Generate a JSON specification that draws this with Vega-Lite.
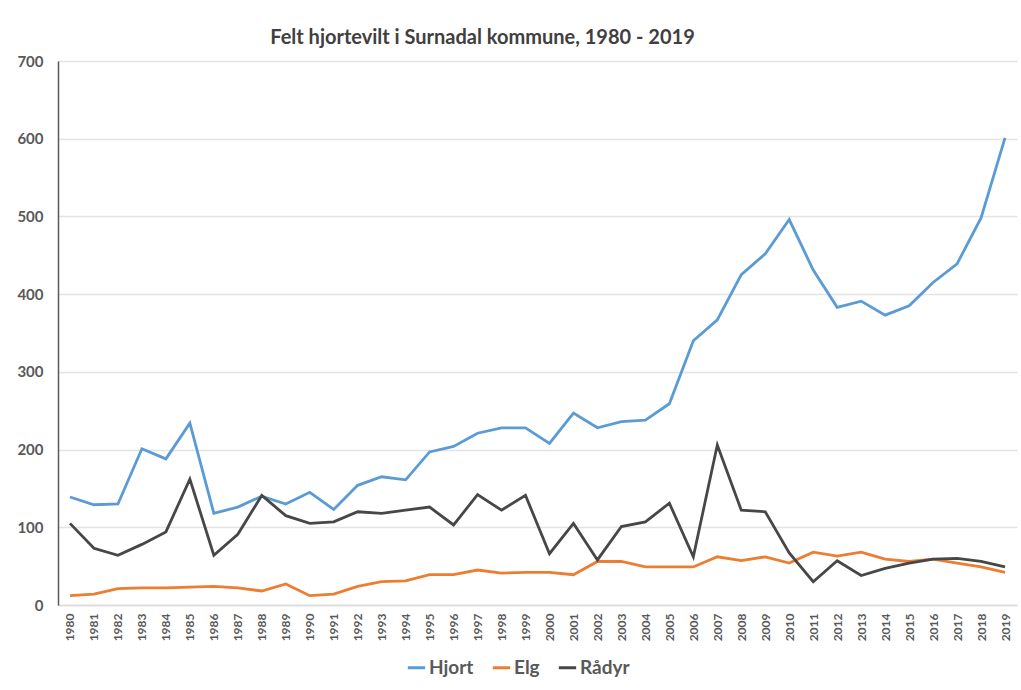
{
  "$schema": "https://vega.github.io/schema/vega-lite/v6.json",
  "width": 959,
  "height": 544,
  "autosize": {"type": "none"},
  "padding": {"left": 58, "top": 61, "right": 4, "bottom": 85},
  "background": "white",
  "title": {
    "text": "Felt hjortevilt i Surnadal kommune, 1980 - 2019",
    "anchor": "middle",
    "dx": -55,
    "offset": 6,
    "font": "Lato",
    "fontSize": 20,
    "fontWeight": "bold",
    "color": "#404040"
  },
  "data": {
    "values": [
      {"year": "1980", "art": "Hjort", "antall": 139}, {"year": "1980", "art": "Elg", "antall": 12}, {"year": "1980", "art": "Rådyr", "antall": 105},
      {"year": "1981", "art": "Hjort", "antall": 129}, {"year": "1981", "art": "Elg", "antall": 14}, {"year": "1981", "art": "Rådyr", "antall": 73},
      {"year": "1982", "art": "Hjort", "antall": 130}, {"year": "1982", "art": "Elg", "antall": 21}, {"year": "1982", "art": "Rådyr", "antall": 64},
      {"year": "1983", "art": "Hjort", "antall": 201}, {"year": "1983", "art": "Elg", "antall": 22}, {"year": "1983", "art": "Rådyr", "antall": 78},
      {"year": "1984", "art": "Hjort", "antall": 188}, {"year": "1984", "art": "Elg", "antall": 22}, {"year": "1984", "art": "Rådyr", "antall": 94},
      {"year": "1985", "art": "Hjort", "antall": 234}, {"year": "1985", "art": "Elg", "antall": 23}, {"year": "1985", "art": "Rådyr", "antall": 162},
      {"year": "1986", "art": "Hjort", "antall": 118}, {"year": "1986", "art": "Elg", "antall": 24}, {"year": "1986", "art": "Rådyr", "antall": 64},
      {"year": "1987", "art": "Hjort", "antall": 126}, {"year": "1987", "art": "Elg", "antall": 22}, {"year": "1987", "art": "Rådyr", "antall": 91},
      {"year": "1988", "art": "Hjort", "antall": 140}, {"year": "1988", "art": "Elg", "antall": 18}, {"year": "1988", "art": "Rådyr", "antall": 141},
      {"year": "1989", "art": "Hjort", "antall": 130}, {"year": "1989", "art": "Elg", "antall": 27}, {"year": "1989", "art": "Rådyr", "antall": 115},
      {"year": "1990", "art": "Hjort", "antall": 145}, {"year": "1990", "art": "Elg", "antall": 12}, {"year": "1990", "art": "Rådyr", "antall": 105},
      {"year": "1991", "art": "Hjort", "antall": 123}, {"year": "1991", "art": "Elg", "antall": 14}, {"year": "1991", "art": "Rådyr", "antall": 107},
      {"year": "1992", "art": "Hjort", "antall": 154}, {"year": "1992", "art": "Elg", "antall": 24}, {"year": "1992", "art": "Rådyr", "antall": 120},
      {"year": "1993", "art": "Hjort", "antall": 165}, {"year": "1993", "art": "Elg", "antall": 30}, {"year": "1993", "art": "Rådyr", "antall": 118},
      {"year": "1994", "art": "Hjort", "antall": 161}, {"year": "1994", "art": "Elg", "antall": 31}, {"year": "1994", "art": "Rådyr", "antall": 122},
      {"year": "1995", "art": "Hjort", "antall": 197}, {"year": "1995", "art": "Elg", "antall": 39}, {"year": "1995", "art": "Rådyr", "antall": 126},
      {"year": "1996", "art": "Hjort", "antall": 204}, {"year": "1996", "art": "Elg", "antall": 39}, {"year": "1996", "art": "Rådyr", "antall": 103},
      {"year": "1997", "art": "Hjort", "antall": 221}, {"year": "1997", "art": "Elg", "antall": 45}, {"year": "1997", "art": "Rådyr", "antall": 142},
      {"year": "1998", "art": "Hjort", "antall": 228}, {"year": "1998", "art": "Elg", "antall": 41}, {"year": "1998", "art": "Rådyr", "antall": 122},
      {"year": "1999", "art": "Hjort", "antall": 228}, {"year": "1999", "art": "Elg", "antall": 42}, {"year": "1999", "art": "Rådyr", "antall": 141},
      {"year": "2000", "art": "Hjort", "antall": 208}, {"year": "2000", "art": "Elg", "antall": 42}, {"year": "2000", "art": "Rådyr", "antall": 66},
      {"year": "2001", "art": "Hjort", "antall": 247}, {"year": "2001", "art": "Elg", "antall": 39}, {"year": "2001", "art": "Rådyr", "antall": 105},
      {"year": "2002", "art": "Hjort", "antall": 228}, {"year": "2002", "art": "Elg", "antall": 56}, {"year": "2002", "art": "Rådyr", "antall": 58},
      {"year": "2003", "art": "Hjort", "antall": 236}, {"year": "2003", "art": "Elg", "antall": 56}, {"year": "2003", "art": "Rådyr", "antall": 101},
      {"year": "2004", "art": "Hjort", "antall": 238}, {"year": "2004", "art": "Elg", "antall": 49}, {"year": "2004", "art": "Rådyr", "antall": 107},
      {"year": "2005", "art": "Hjort", "antall": 259}, {"year": "2005", "art": "Elg", "antall": 49}, {"year": "2005", "art": "Rådyr", "antall": 131},
      {"year": "2006", "art": "Hjort", "antall": 340}, {"year": "2006", "art": "Elg", "antall": 49}, {"year": "2006", "art": "Rådyr", "antall": 62},
      {"year": "2007", "art": "Hjort", "antall": 367}, {"year": "2007", "art": "Elg", "antall": 62}, {"year": "2007", "art": "Rådyr", "antall": 206},
      {"year": "2008", "art": "Hjort", "antall": 425}, {"year": "2008", "art": "Elg", "antall": 57}, {"year": "2008", "art": "Rådyr", "antall": 122},
      {"year": "2009", "art": "Hjort", "antall": 452}, {"year": "2009", "art": "Elg", "antall": 62}, {"year": "2009", "art": "Rådyr", "antall": 120},
      {"year": "2010", "art": "Hjort", "antall": 496}, {"year": "2010", "art": "Elg", "antall": 54}, {"year": "2010", "art": "Rådyr", "antall": 67},
      {"year": "2011", "art": "Hjort", "antall": 431}, {"year": "2011", "art": "Elg", "antall": 68}, {"year": "2011", "art": "Rådyr", "antall": 30},
      {"year": "2012", "art": "Hjort", "antall": 383}, {"year": "2012", "art": "Elg", "antall": 63}, {"year": "2012", "art": "Rådyr", "antall": 57},
      {"year": "2013", "art": "Hjort", "antall": 391}, {"year": "2013", "art": "Elg", "antall": 68}, {"year": "2013", "art": "Rådyr", "antall": 38},
      {"year": "2014", "art": "Hjort", "antall": 373}, {"year": "2014", "art": "Elg", "antall": 59}, {"year": "2014", "art": "Rådyr", "antall": 47},
      {"year": "2015", "art": "Hjort", "antall": 385}, {"year": "2015", "art": "Elg", "antall": 56}, {"year": "2015", "art": "Rådyr", "antall": 54},
      {"year": "2016", "art": "Hjort", "antall": 415}, {"year": "2016", "art": "Elg", "antall": 59}, {"year": "2016", "art": "Rådyr", "antall": 59},
      {"year": "2017", "art": "Hjort", "antall": 439}, {"year": "2017", "art": "Elg", "antall": 54}, {"year": "2017", "art": "Rådyr", "antall": 60},
      {"year": "2018", "art": "Hjort", "antall": 498}, {"year": "2018", "art": "Elg", "antall": 49}, {"year": "2018", "art": "Rådyr", "antall": 56},
      {"year": "2019", "art": "Hjort", "antall": 601}, {"year": "2019", "art": "Elg", "antall": 42}, {"year": "2019", "art": "Rådyr", "antall": 49}
    ]
  },
  "mark": {"type": "line", "strokeWidth": 2.8, "strokeJoin": "miter"},
  "encoding": {
    "x": {
      "field": "year",
      "type": "ordinal",
      "scale": {"type": "point", "padding": 0.5},
      "axis": {
        "title": null,
        "labelAngle": -90,
        "labelFont": "Lato",
        "labelFontSize": 12,
        "labelFontWeight": "bold",
        "labelColor": "#595959",
        "labelPadding": 8,
        "ticks": false,
        "domainColor": "#d9d9d9",
        "domainWidth": 1.5,
        "grid": false
      }
    },
    "y": {
      "field": "antall",
      "type": "quantitative",
      "scale": {"domain": [0, 700], "nice": false},
      "axis": {
        "title": null,
        "values": [0, 100, 200, 300, 400, 500, 600, 700],
        "labelFont": "Lato",
        "labelFontSize": 15,
        "labelFontWeight": "bold",
        "labelColor": "#595959",
        "labelPadding": 15,
        "ticks": false,
        "domainColor": "#595959",
        "domainWidth": 1.5,
        "grid": true,
        "gridColor": "#e3e3e3",
        "gridWidth": 1.3
      }
    },
    "color": {
      "field": "art",
      "type": "nominal",
      "scale": {"domain": ["Hjort", "Elg", "Rådyr"], "range": ["#5b9bd5", "#ed7d31", "#474747"]},
      "legend": {
        "title": null,
        "orient": "none",
        "legendX": 348,
        "legendY": 596,
        "direction": "horizontal",
        "symbolType": "stroke",
        "symbolStrokeWidth": 3,
        "symbolSize": 300,
        "labelFont": "Lato",
        "labelFontSize": 19,
        "labelFontWeight": "bold",
        "labelColor": "#595959",
        "labelOffset": 2,
        "columnPadding": 12
      }
    }
  },
  "config": {
    "view": {"stroke": null}
  }
}
